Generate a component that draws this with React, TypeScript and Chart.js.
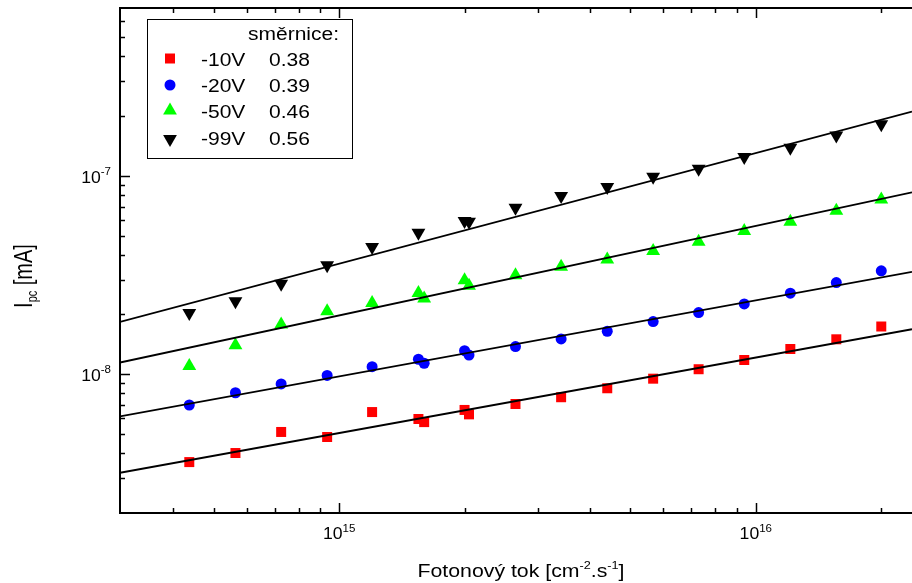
import React, { useEffect, useRef } from 'react';
import { Chart, registerables } from 'chart.js';

Chart.register(...registerables);

// ---------- data ----------
const photonFlux = [4.37e14, 5.64e14, 7.26e14, 9.36e14, 1.2e15, 1.55e15, 1.6e15, 2.0e15, 2.05e15, 2.65e15, 3.41e15, 4.4e15, 5.67e15, 7.29e15, 9.38e15, 1.21e16, 1.56e16, 2.0e16];
const i10V = [3.61e-9, 4.01e-9, 5.12e-9, 4.83e-9, 6.45e-9, 5.95e-9, 5.74e-9, 6.61e-9, 6.28e-9, 7.08e-9, 7.66e-9, 8.5e-9, 9.5e-9, 1.06e-8, 1.18e-8, 1.34e-8, 1.5e-8, 1.74e-8];
const i20V = [7.0e-9, 8.07e-9, 8.94e-9, 9.86e-9, 1.092e-8, 1.19e-8, 1.136e-8, 1.315e-8, 1.25e-8, 1.378e-8, 1.507e-8, 1.647e-8, 1.842e-8, 2.045e-8, 2.262e-8, 2.561e-8, 2.897e-8, 3.32e-8];
const i50V = [1.101e-8, 1.4e-8, 1.783e-8, 2.079e-8, 2.288e-8, 2.57e-8, 2.405e-8, 2.979e-8, 2.788e-8, 3.156e-8, 3.475e-8, 3.784e-8, 4.172e-8, 4.648e-8, 5.261e-8, 5.861e-8, 6.66e-8, 7.597e-8];
const i99V = [2.038e-8, 2.334e-8, 2.854e-8, 3.545e-8, 4.37e-8, 5.158e-8, null, 5.909e-8, 5.859e-8, 6.895e-8, 7.901e-8, 8.769e-8, 9.885e-8, 1.085e-7, 1.243e-7, 1.384e-7, 1.597e-7, 1.815e-7];

const seriesNames = ['-10V', '-20V', '-50V', '-99V'];
const slopes = ['0.38', '0.39', '0.46', '0.56'];
const colors = ['#ff0000', '#0000ff', '#00ff00', '#000000'];

// fitted lines: value at left and right edge of the plot
const fitX = [2.98e14, 2.37e16];
const fitStart = [3.19e-9, 6.14e-9, 1.146e-8, 1.835e-8];
const fitEnd = [1.686e-8, 3.28e-8, 8.25e-8, 2.103e-7];

const xMin = 2.98e14;
const xMax = 2.37e16;
const yMin = 2.0e-9;
const yMax = 7.0e-7;

const xMajor = [1e15, 1e16];
const xMajorExp = ['15', '16'];
const xMinor = [4e14, 5e14, 6e14, 7e14, 8e14, 9e14, 2e15, 3e15, 4e15, 5e15, 6e15, 7e15, 8e15, 9e15, 2e16];
const yMajor = [1e-8, 1e-7];
const yMajorExp = ['-8', '-7'];
const yMinor = [3e-9, 4e-9, 5e-9, 6e-9, 7e-9, 8e-9, 9e-9, 2e-8, 3e-8, 4e-8, 5e-8, 6e-8, 7e-8, 8e-8, 9e-8, 2e-7, 3e-7, 4e-7, 5e-7, 6e-7];

const legendTitle = 'směrnice:';
const xTitle = ['Fotonový tok [cm', '-2', '.s', '-1', ']'];
const yTitle = ['I', 'pc', ' [mA]'];

const FONT = '"Liberation Sans", Arial, Helvetica, sans-serif';

type Part = { t: string; s: number; dy: number };

function drawParts(
  ctx: CanvasRenderingContext2D,
  parts: Part[],
  x: number,
  y: number,
  align: 'left' | 'center' | 'right',
  sx: number,
  sy: number,
  rot: number
) {
  let total = 0;
  const widths = parts.map((p) => {
    ctx.font = `${p.s}px ${FONT}`;
    const w = ctx.measureText(p.t).width;
    total += w;
    return w;
  });
  ctx.save();
  ctx.translate(x, y);
  if (rot) ctx.rotate(rot);
  ctx.scale(sx, sy);
  ctx.textAlign = 'left';
  ctx.textBaseline = 'alphabetic';
  ctx.fillStyle = '#000';
  let cx = align === 'left' ? 0 : align === 'center' ? -total / 2 : -total;
  parts.forEach((p, i) => {
    ctx.font = `${p.s}px ${FONT}`;
    ctx.fillText(p.t, cx, p.dy);
    cx += widths[i];
  });
  ctx.restore();
}

function drawMarker(ctx: CanvasRenderingContext2D, kind: number, x: number, y: number, color: string) {
  ctx.save();
  ctx.fillStyle = color;
  ctx.beginPath();
  if (kind === 0) {
    ctx.rect(x - 5, y - 5, 10, 10);
  } else if (kind === 1) {
    ctx.arc(x, y, 5.5, 0, Math.PI * 2);
  } else if (kind === 2) {
    ctx.moveTo(x, y - 8);
    ctx.lineTo(x + 6.9, y + 4);
    ctx.lineTo(x - 6.9, y + 4);
    ctx.closePath();
  } else {
    ctx.moveTo(x, y + 8);
    ctx.lineTo(x + 6.9, y - 4);
    ctx.lineTo(x - 6.9, y - 4);
    ctx.closePath();
  }
  ctx.fill();
  ctx.restore();
}

const decorPlugin = {
  id: 'decor',
  afterDraw(chart: any) {
    const ctx: CanvasRenderingContext2D = chart.ctx;
    const a = chart.chartArea;
    const xs = chart.scales.x;
    const ys = chart.scales.y;
    ctx.save();
    ctx.strokeStyle = '#000';
    ctx.lineCap = 'butt';
    // frame (left, top, bottom)
    ctx.lineWidth = 2;
    ctx.beginPath();
    ctx.moveTo(a.right + 2, a.top);
    ctx.lineTo(a.left, a.top);
    ctx.lineTo(a.left, a.bottom);
    ctx.lineTo(a.right + 2, a.bottom);
    ctx.stroke();

    // ticks (inward)
    ctx.lineWidth = 1.5;
    const seg = (x1: number, y1: number, x2: number, y2: number) => {
      ctx.beginPath();
      ctx.moveTo(x1, y1);
      ctx.lineTo(x2, y2);
      ctx.stroke();
    };
    xMajor.forEach((v) => {
      const px = Math.round(xs.getPixelForValue(v)) + 0.5;
      seg(px, a.bottom, px, a.bottom - 10);
      seg(px, a.top, px, a.top + 10);
    });
    xMinor.forEach((v) => {
      const px = Math.round(xs.getPixelForValue(v)) + 0.5;
      seg(px, a.bottom, px, a.bottom - 5);
      seg(px, a.top, px, a.top + 5);
    });
    yMajor.forEach((v) => {
      const py = Math.round(ys.getPixelForValue(v)) + 0.5;
      seg(a.left, py, a.left + 10, py);
    });
    yMinor.forEach((v) => {
      const py = Math.round(ys.getPixelForValue(v)) + 0.5;
      seg(a.left, py, a.left + 5, py);
    });

    // tick labels
    xMajor.forEach((v, i) => {
      const px = xs.getPixelForValue(v);
      drawParts(ctx, [
        { t: '10', s: 16, dy: 0 },
        { t: xMajorExp[i], s: 10.5, dy: -7 },
      ], px, a.bottom + 26, 'center', 1.1, 1, 0);
    });
    yMajor.forEach((v, i) => {
      const py = ys.getPixelForValue(v);
      drawParts(ctx, [
        { t: '10', s: 16, dy: 0 },
        { t: yMajorExp[i], s: 10.5, dy: -8 },
      ], a.left - 9, py + 7, 'right', 1.1, 1, 0);
    });

    // axis titles
    drawParts(ctx, [
      { t: xTitle[0], s: 18.5, dy: 0 },
      { t: xTitle[1], s: 11, dy: -8 },
      { t: xTitle[2], s: 18.5, dy: 0 },
      { t: xTitle[3], s: 11, dy: -8 },
      { t: xTitle[4], s: 18.5, dy: 0 },
    ], (a.left + a.right) / 2 + 5, 577, 'center', 1.15, 1, 0);

    drawParts(ctx, [
      { t: yTitle[0], s: 20, dy: 0 },
      { t: yTitle[1], s: 11, dy: 4 },
      { t: yTitle[2], s: 20, dy: 0 },
    ], 32, 276, 'center', 1, 1.25, -Math.PI / 2);

    // legend box
    ctx.lineWidth = 1;
    ctx.strokeStyle = '#000';
    ctx.fillStyle = '#fff';
    ctx.fillRect(147, 19, 205, 139);
    ctx.strokeRect(147.5, 19.5, 205, 139);
    drawParts(ctx, [{ t: legendTitle, s: 17.5, dy: 0 }], 339, 40, 'right', 1.2, 1, 0);
    const rowBase = [65.7, 91.7, 118.3, 145];
    const rowMark = [58.5, 85, 110.5, 139];
    seriesNames.forEach((n, i) => {
      drawMarker(ctx, i, 170, rowMark[i], colors[i]);
      drawParts(ctx, [{ t: n, s: 17.5, dy: 0 }], 201, rowBase[i], 'left', 1.2, 1, 0);
      drawParts(ctx, [{ t: slopes[i], s: 17.5, dy: 0 }], 269, rowBase[i], 'left', 1.2, 1, 0);
    });
    ctx.restore();
  },
};

function pts(ys: (number | null)[]) {
  const out: { x: number; y: number }[] = [];
  ys.forEach((y, i) => {
    if (y !== null) out.push({ x: photonFlux[i], y });
  });
  return out;
}

export default function App() {
  const ref = useRef<HTMLCanvasElement | null>(null);
  useEffect(() => {
    if (!ref.current) return;
    const seriesData = [i10V, i20V, i50V, i99V];
    const styles = ['rect', 'circle', 'triangle', 'triangle'];
    const radii = [7.07, 5.5, 8, 8];
    const pointSets = seriesData.map((d, i) => ({
      label: seriesNames[i],
      data: pts(d),
      showLine: false,
      pointStyle: styles[i],
      pointRotation: i === 3 ? 180 : 0,
      pointRadius: radii[i],
      pointBackgroundColor: colors[i],
      pointBorderWidth: 0,
      pointBorderColor: colors[i],
      order: 2,
    }));
    const fitSets = fitStart.map((s, i) => ({
      label: 'fit ' + seriesNames[i],
      data: [
        { x: fitX[0], y: s },
        { x: fitX[1], y: fitEnd[i] },
      ],
      showLine: true,
      borderColor: '#000',
      borderWidth: 1.8,
      pointRadius: 0,
      order: 1,
    }));
    const chart = new Chart(ref.current, {
      type: 'scatter',
      data: { datasets: [...fitSets, ...pointSets] as any },
      options: {
        animation: false,
        responsive: false,
        layout: { autoPadding: false, padding: { left: 120, top: 8, right: 0, bottom: 70 } },
        plugins: { legend: { display: false }, tooltip: { enabled: false } },
        scales: {
          x: { type: 'logarithmic', min: xMin, max: xMax, display: false },
          y: { type: 'logarithmic', min: yMin, max: yMax, display: false },
        },
      },
      plugins: [decorPlugin],
    });
    return () => chart.destroy();
  }, []);
  return (
    <div style={{ position: 'absolute', left: 0, top: 0, width: 912, height: 583, background: '#fff' }}>
      <canvas ref={ref} width={912} height={583} style={{ display: 'block' }} />
    </div>
  );
}
